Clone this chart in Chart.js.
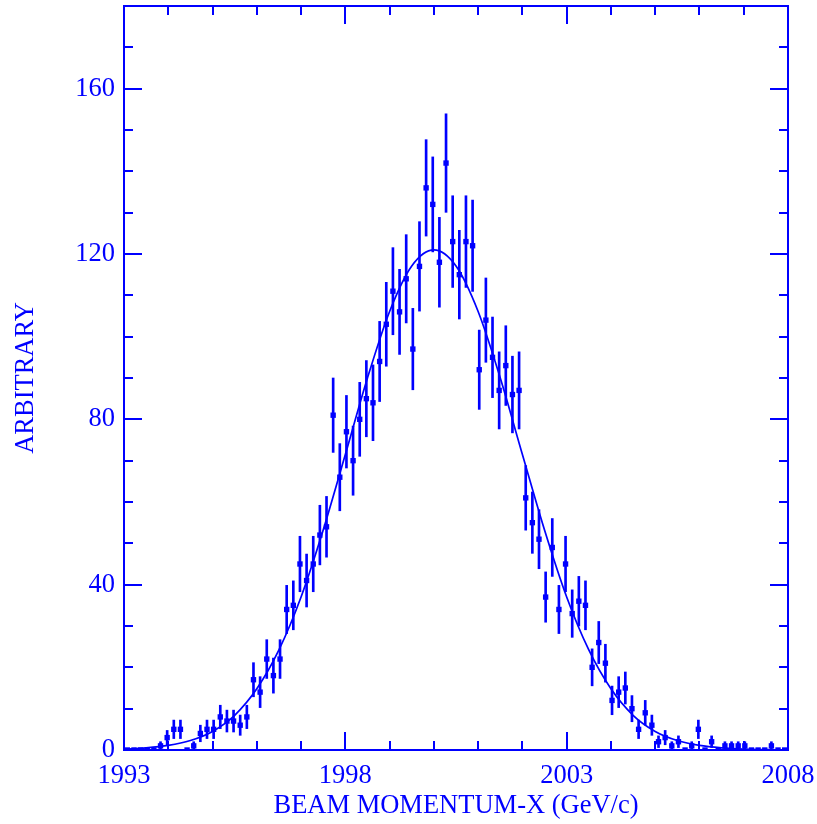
<!DOCTYPE html>
<html>
<head>
<meta charset="utf-8">
<script src="https://cdn.jsdelivr.net/npm/chart.js@4"></script>
<style>
  html, body { margin: 0; padding: 0; background: #fff; }
  canvas { display: block; }
</style>
</head>
<body>
<canvas id="chart" width="817" height="824"></canvas>
<script>
// ---------- DATA ----------
const BIN_START = 1993;
const BIN_WIDTH = 0.15;

// counts per bin, 100 bins from 1993 to 2008
const counts = [
    0, 0, 0, 0, 0, 1, 3, 5, 5, 0,
    1, 4, 5, 5, 8, 7, 7, 6, 8, 17,
    14, 22, 18, 22, 34, 35, 45, 41, 45, 52,
    54, 81, 66, 77, 70, 80, 85, 84, 94, 103,
    111, 106, 114, 97, 117, 136, 132, 118, 142, 123,
    115, 123, 122, 92, 104, 95, 87, 93, 86, 87,
    61, 55, 51, 37, 49, 34, 45, 33, 36, 35,
    20, 26, 21, 12, 14, 15, 10, 5, 9, 6,
    2, 3, 1, 2, 0, 1, 5, 0, 2, 0,
    1, 1, 1, 1, 0, 0, 0, 1, 0, 0
];

// fitted curve, every half unit
const fitX = [
    1993, 1993.5, 1994, 1994.5, 1995, 1995.5, 1996, 1996.5, 1997, 1997.5,
    1998, 1998.5, 1999, 1999.5, 2000, 2000.5, 2001, 2001.5, 2002, 2002.5,
    2003, 2003.5, 2004, 2004.5, 2005, 2005.5, 2006, 2006.5, 2007, 2007.5, 2008
];
const fitY = [
    0.2, 0.5, 1.1, 2.3, 4.5, 8.4, 14.8, 24.2, 37.0, 53.2,
    71.5, 90.0, 106.1, 117.1, 121.0, 117.1, 106.1, 90.0, 71.5, 53.2,
    37.0, 24.2, 14.8, 8.4, 4.5, 2.3, 1.1, 0.5, 0.2, 0.1, 0.0
];

const xTickLabels = [1993, 1998, 2003, 2008];
const yTickLabels = [0, 40, 80, 120, 160];
const xMinorTicks = [1993, 1994, 1995, 1996, 1997, 1998, 1999, 2000, 2001, 2002, 2003, 2004, 2005, 2006, 2007, 2008];
const yMinorTicks = [0, 10, 20, 30, 40, 50, 60, 70, 80, 90, 100, 110, 120, 130, 140, 150, 160, 170, 180];

// ---------- STYLE ----------
const BLUE = '#0000ff';
const FONT = "'Liberation Serif', 'Times New Roman', serif";

const binCentres = counts.map((_, i) => BIN_START + BIN_WIDTH * (i + 0.5));
const points = counts.map((c, i) => ({ x: binCentres[i], y: c }));
const errBars = counts.map((c, i) => ({ x: binCentres[i], y: [c - Math.sqrt(c), c + Math.sqrt(c)] }));
const fitLine = fitX.map((x, i) => ({ x, y: fitY[i] }));

// frame + inward ticks on all four sides
const frameTicks = {
    id: 'frameTicks',
    afterDraw(chart) {
        const { ctx, chartArea: a, scales: { x, y } } = chart;
        ctx.save();
        ctx.strokeStyle = BLUE;
        ctx.lineWidth = 2;
        ctx.strokeRect(a.left, a.top, a.right - a.left, a.bottom - a.top);
        ctx.beginPath();
        xMinorTicks.forEach(v => {
            const px = Math.round(x.getPixelForValue(v));
            const len = xTickLabels.includes(v) ? 18 : 9;
            ctx.moveTo(px, a.bottom); ctx.lineTo(px, a.bottom - len);
            ctx.moveTo(px, a.top); ctx.lineTo(px, a.top + len);
        });
        yMinorTicks.forEach(v => {
            const py = Math.round(y.getPixelForValue(v));
            const len = yTickLabels.includes(v) ? 18 : 9;
            ctx.moveTo(a.left, py); ctx.lineTo(a.left + len, py);
            ctx.moveTo(a.right, py); ctx.lineTo(a.right - len, py);
        });
        ctx.stroke();
        ctx.restore();
    }
};

new Chart(document.getElementById('chart'), {
    type: 'scatter',
    data: {
        datasets: [
            {
                type: 'scatter',
                data: points,
                pointStyle: 'rect',
                pointRadius: 3.8,
                borderWidth: 0,
                backgroundColor: BLUE
            },
            {
                type: 'bar',
                data: errBars,
                barThickness: 2,
                backgroundColor: BLUE,
                borderWidth: 0
            },
            {
                type: 'line',
                data: fitLine,
                borderColor: BLUE,
                borderWidth: 1.7,
                pointRadius: 0,
                cubicInterpolationMode: 'monotone',
                fill: false
            }
        ]
    },
    options: {
        responsive: false,
        animation: false,
        devicePixelRatio: 1,
        layout: { padding: { top: 6, right: 29, left: 0, bottom: 0 } },
        plugins: { legend: { display: false }, tooltip: { enabled: false } },
        scales: {
            x: {
                type: 'linear',
                min: 1993,
                max: 2008,
                offset: false,
                grid: { display: false, drawTicks: false, offset: false },
                border: { display: false },
                ticks: {
                    color: BLUE,
                    font: { family: FONT, size: 26.5 },
                    padding: 10,
                    maxRotation: 0,
                    autoSkip: false,
                    callback: v => String(v)
                },
                afterBuildTicks: s => { s.ticks = xTickLabels.map(v => ({ value: v })); },
                afterFit: s => { s.height = 74; s.paddingLeft = 0; s.paddingRight = 0; },
                title: {
                    display: true,
                    text: 'BEAM MOMENTUM-X (GeV/c)',
                    color: BLUE,
                    font: { family: FONT, size: 26.5 },
                    padding: { top: 0, bottom: 2 }
                }
            },
            y: {
                min: 0,
                max: 180,
                grid: { display: false, drawTicks: false },
                border: { display: false },
                ticks: {
                    color: BLUE,
                    font: { family: FONT, size: 26.5 },
                    padding: 9,
                    callback: v => String(v)
                },
                afterBuildTicks: s => { s.ticks = yTickLabels.map(v => ({ value: v })); },
                afterFit: s => { s.width = 124; s.paddingTop = 0; s.paddingBottom = 0; },
                title: {
                    display: true,
                    text: 'ARBITRARY',
                    color: BLUE,
                    font: { family: FONT, size: 26.5 },
                    padding: { top: 10, bottom: 0 }
                }
            }
        }
    },
    plugins: [frameTicks]
});
</script>
</body>
</html>
